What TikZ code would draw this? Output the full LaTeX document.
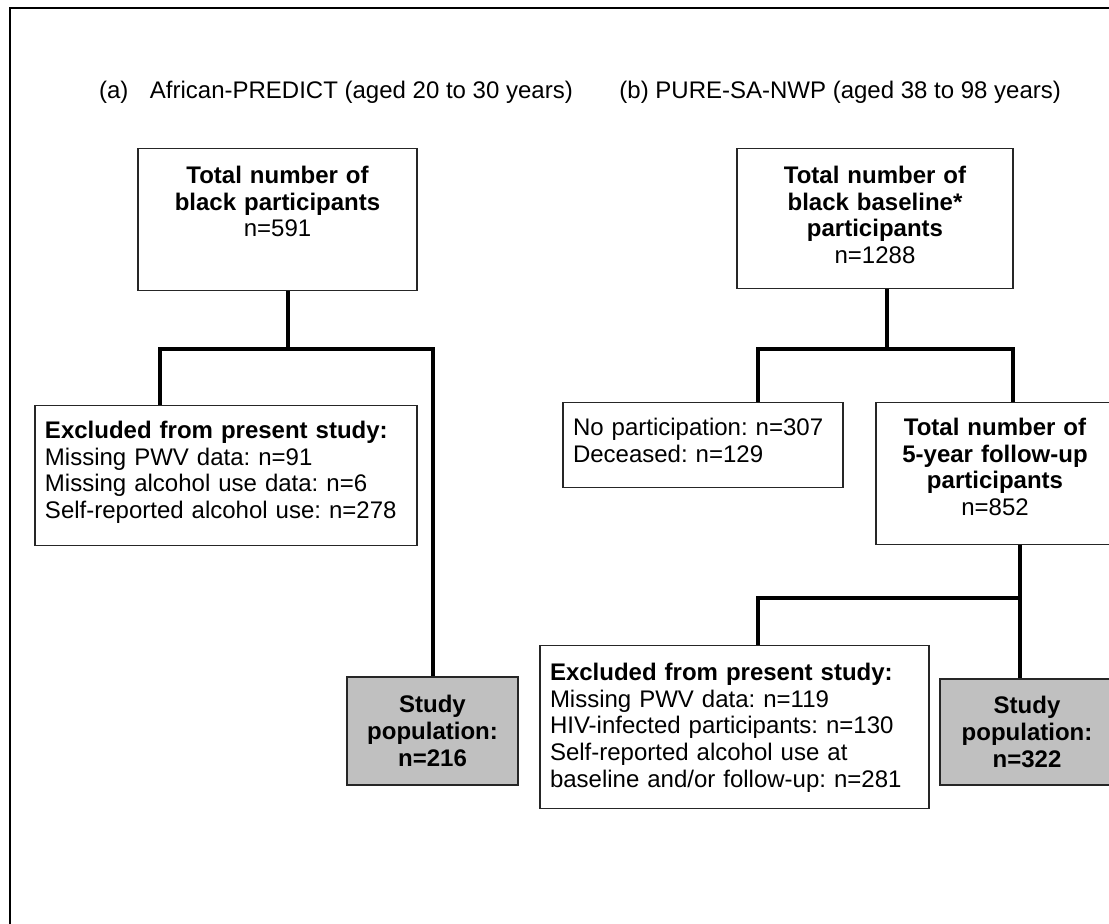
\documentclass[tikz,border=0pt]{standalone}
\usepackage{fontspec}
\setmainfont{Liberation Sans}
\frenchspacing
\definecolor{popgrey}{RGB}{192,192,192}
\tikzset{
  box/.style={draw=black!85, line width=0.6pt, inner xsep=5pt, inner ysep=0pt,
    anchor=north, font=\fontsize{12}{13.35}\selectfont},
  popbox/.style={draw=black!85, fill=popgrey, line width=0.6pt, align=center,
    font=\fontsize{12}{13.35}\selectfont\bfseries},
  link/.style={line width=2pt}
}

\begin{document}
\begin{tikzpicture}[x=0.5pt, y=-0.5pt]
    \useasboundingbox (0,0) rectangle (1109,924);
    \clip (0,0) rectangle (1109,924);
    \draw [line width=1.3pt] (10,8) rectangle (1130,945); % outer frame

    \node [anchor=base west, font=\fontsize{12}{13.35}\selectfont] (titleA) at (92,99) {(a)\hspace{0.9em}African-PREDICT (aged 20 to 30 years)};
    \node [anchor=base east, font=\fontsize{12}{13.35}\selectfont] (titleB) at (1068,99) {(b) PURE-SA-NWP (aged 38 to 98 years)};

    % (a) African-PREDICT
    \node [box, text width=129.5pt, align=center, text height=17.5pt, text depth=53.5pt] (A1) at (277.5,148) {\textbf{Total number of}\\\textbf{black participants}\\n=591};
    \node [box, text width=181pt, align=left, text height=16.5pt, text depth=53.5pt] (A2) at (226,405) {\textbf{Excluded from present study:}\\Missing PWV data: n=91\\Missing alcohol use data: n=6\\Self-reported alcohol use: n=278};
    \node [popbox, minimum width=85.5pt, minimum height=54pt] (A3) at (432.5,731) {Study\\population:\\n=216};

    % (b) PURE-SA-NWP
    \node [box, text width=128pt, align=center, text height=17.5pt, text depth=52.5pt] (B1) at (875,148) {\textbf{Total number of}\\\textbf{black baseline*}\\\textbf{participants}\\n=1288};
    \node [box, text width=130pt, align=left, text height=16.5pt, text depth=26pt] (B2) at (703,402) {No participation: n=307\\Deceased: n=129};
    \node [box, text width=109pt, align=center, text height=16.5pt, text depth=54.5pt] (B3) at (995,402) {\textbf{Total number of}\\\textbf{5-year follow-up}\\\textbf{participants}\\n=852};
    \node [box, text width=184.5pt, align=left, text height=17.5pt, text depth=64pt] (B4) at (734.5,645) {\textbf{Excluded from present study:}\\Missing PWV data: n=119\\HIV-infected participants: n=130\\Self-reported alcohol use at\\baseline and/or follow-up: n=281};
    \node [popbox, minimum width=87pt, minimum height=53pt] (B5) at (1027,732) {Study\\population:\\n=322};

    \coordinate (jA) at (288,349);
    \coordinate (lA) at (160,349);
    \draw [link] (A1.south -| jA) -- (jA);
    \draw [link] (A2.north -| lA) -- (lA) -- (lA -| A3.north) -- (A3.north);

    \coordinate (jB) at (887,349);
    \coordinate (lB) at (758,349);
    \coordinate (rB) at (1013,349);
    \draw [link] (B1.south -| jB) -- (jB);
    \draw [link] (B2.north -| lB) -- (lB) -- (rB) -- (B3.north -| rB);

    \coordinate (jC) at (1020,598);
    \coordinate (lC) at (758,598);
    \draw [link] (B3.south -| jC) -- (jC) -- (B5.north -| jC);
    \draw [link] (B4.north -| lC) -- (lC) -- (jC);
\end{tikzpicture}
\end{document}
